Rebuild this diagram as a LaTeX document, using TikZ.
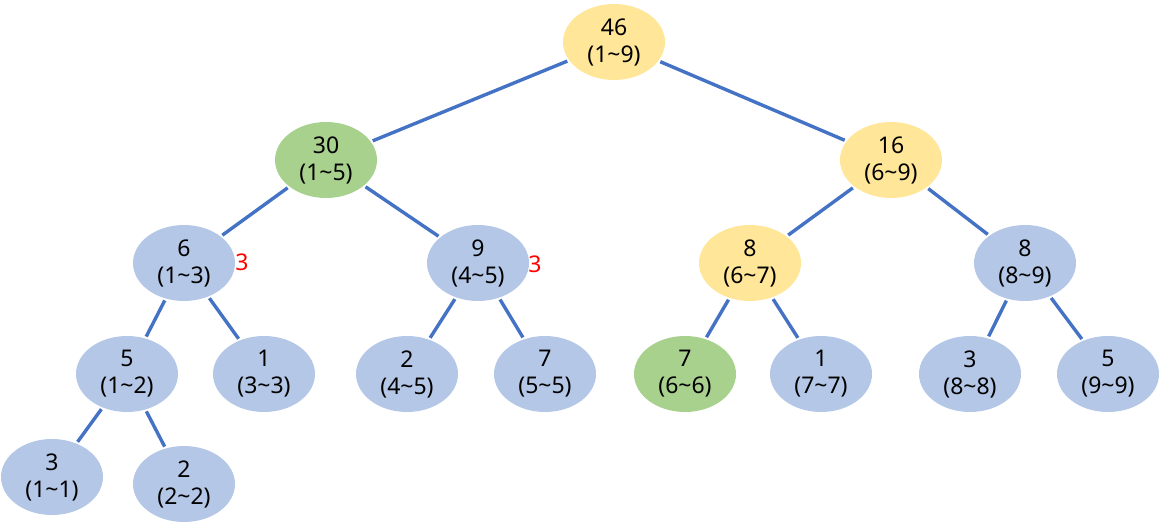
\documentclass[tikz,border=0pt]{standalone}
\usepackage{fontspec}
\setmainfont{Noto Sans}
\usetikzlibrary{shapes.geometric}
\definecolor{nblue}{HTML}{B4C7E7}
\definecolor{nyellow}{HTML}{FFE699}
\definecolor{ngreen}{HTML}{A9D18E}
\definecolor{nline}{HTML}{4472C4}
\definecolor{nred}{HTML}{FF0000}
\newcommand{\tl}{\textasciitilde}
\tikzset{
  seg/.style={ellipse, minimum width=102pt, minimum height=76pt, inner sep=0pt,
    align=center, font=\fontsize{23pt}{27pt}\selectfont, text=black},
  bl/.style={seg, fill=nblue},
  ye/.style={seg, fill=nyellow},
  gr/.style={seg, fill=ngreen},
  edge/.style={draw=nline, line width=3.4pt},
  mark3/.style={text=nred, font=\fontsize{23pt}{26pt}\selectfont, inner sep=0pt}
}
\begin{document}
\begin{tikzpicture}[x=1pt,y=-1pt]
\useasboundingbox (0,0) rectangle (1160,526);
\node[ye] (r) at (614,42) {46\\(1\tl 9)};
\node[gr] (a) at (326,160) {30\\(1\tl 5)};
\node[ye] (b) at (891,160) {16\\(6\tl 9)};
\node[bl] (aa) at (184,263) {6\\(1\tl 3)};
\node[bl] (ab) at (478,263) {9\\(4\tl 5)};
\node[ye] (ba) at (750,263) {8\\(6\tl 7)};
\node[bl] (bb) at (1025,263) {8\\(8\tl 9)};
\node[bl] (aaa) at (127,374) {5\\(1\tl 2)};
\node[bl] (aab) at (264,374) {1\\(3\tl 3)};
\node[bl] (aba) at (407,374) {2\\(4\tl 5)};
\node[bl] (abb) at (545,374) {7\\(5\tl 5)};
\node[gr] (baa) at (685,374) {7\\(6\tl 6)};
\node[bl] (bab) at (821,374) {1\\(7\tl 7)};
\node[bl] (bba) at (970,374) {3\\(8\tl 8)};
\node[bl] (bbb) at (1108,374) {5\\(9\tl 9)};
\node[bl] (aaaa) at (52,477) {3\\(1\tl 1)};
\node[bl] (aaab) at (184,484) {2\\(2\tl 2)};
\node[mark3] (m1) at (242,262) {3};
\node[mark3] (m2) at (535,264) {3};
\foreach \p/\c in {r/a,r/b,a/aa,a/ab,b/ba,b/bb,aa/aaa,aa/aab,ab/aba,ab/abb,ba/baa,ba/bab,bb/bba,bb/bbb,aaa/aaaa,aaa/aaab}
  \draw[edge, shorten <=2pt, shorten >=2pt] (\p) -- (\c);
\end{tikzpicture}
\end{document}
